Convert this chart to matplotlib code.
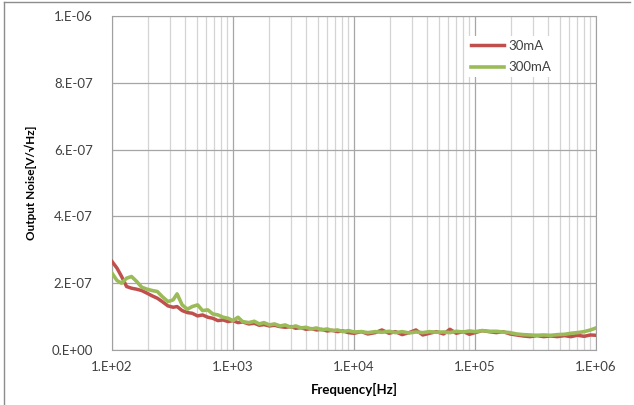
import matplotlib
matplotlib.use('Agg')
import matplotlib.pyplot as plt
from matplotlib.lines import Line2D
from matplotlib.ticker import LogLocator, NullFormatter

# measured frequency points [Hz]
freq = [100, 110, 120, 132, 145, 160, 176, 195, 215, 237, 260, 290, 320, 345, 380,
        420, 460, 510, 560, 620, 680, 750, 830, 910, 1000, 1100, 1200, 1350, 1500,
        1650, 1800, 2000, 2200, 2450, 2700, 3000, 3300, 3650, 4000, 4450, 4900, 5400,
        6000, 6600, 7300, 8100, 9000, 10000, 11500, 13000, 15000, 17000, 19500, 22000,
        25000, 28500, 32500, 37000, 42000, 48000, 55000, 62000, 70000, 80000, 90000,
        100000, 115000, 130000, 150000, 170000, 195000, 220000, 250000, 285000, 325000,
        370000, 420000, 480000, 550000, 620000, 700000, 800000, 900000, 1000000]

# output noise in units of 1e-7 V/rtHz
noise_30ma = [2.65, 2.45, 2.2, 1.9, 1.85, 1.82, 1.78, 1.7, 1.62, 1.55, 1.45, 1.32, 1.28, 1.3, 1.18,
              1.12, 1.1, 1.02, 1.05, 0.98, 0.95, 0.88, 0.9, 0.85, 0.88, 0.82, 0.84, 0.78, 0.8,
              0.74, 0.76, 0.72, 0.74, 0.7, 0.68, 0.7, 0.65, 0.67, 0.62, 0.64, 0.6, 0.62,
              0.57, 0.59, 0.55, 0.57, 0.52, 0.5, 0.55, 0.48, 0.52, 0.6, 0.5, 0.55,
              0.46, 0.52, 0.6, 0.45, 0.5, 0.55, 0.48, 0.62, 0.5, 0.55, 0.47,
              0.52, 0.58, 0.55, 0.52, 0.55, 0.48, 0.45, 0.42, 0.4, 0.43,
              0.4, 0.42, 0.4, 0.43, 0.4, 0.44, 0.41, 0.45, 0.44]

noise_300ma = [2.3, 2.08, 2.0, 2.15, 2.2, 2.05, 1.88, 1.82, 1.78, 1.75, 1.6, 1.45, 1.5, 1.68, 1.35,
               1.22, 1.3, 1.35, 1.18, 1.2, 1.08, 1.05, 0.98, 0.95, 0.88, 0.98, 0.85, 0.82, 0.86,
               0.78, 0.82, 0.75, 0.78, 0.72, 0.75, 0.68, 0.72, 0.66, 0.68, 0.63, 0.66, 0.6,
               0.63, 0.58, 0.6, 0.55, 0.58, 0.54, 0.55, 0.52, 0.55, 0.53, 0.56, 0.52,
               0.55, 0.51, 0.54, 0.52, 0.55, 0.53, 0.54, 0.52, 0.56, 0.54, 0.57,
               0.55, 0.58, 0.56, 0.56, 0.54, 0.52, 0.48, 0.46, 0.45, 0.44,
               0.45, 0.44, 0.46, 0.47, 0.5, 0.52, 0.55, 0.6, 0.66]

series_labels = ['30mA', '300mA']
xticks = [1e2, 1e3, 1e4, 1e5, 1e6]
xtick_labels = ['1.E+02', '1.E+03', '1.E+04', '1.E+05', '1.E+06']
yticks = [0, 2e-7, 4e-7, 6e-7, 8e-7, 1e-6]
ytick_labels = ['0.E+00', '2.E-07', '4.E-07', '6.E-07', '8.E-07', '1.E-06']

plt.rcParams['font.family'] = ['Lato', 'DejaVu Sans']

fig = plt.figure(figsize=(6.34, 4.05), dpi=100)
ax = fig.add_axes([112 / 634, 55 / 405, 484 / 634, 334 / 405])

ax.semilogx(freq, [v * 1e-7 for v in noise_30ma], color='#C0504D', lw=2.5, label=series_labels[0], zorder=3)
ax.semilogx(freq, [v * 1e-7 for v in noise_300ma], color='#9BBB59', lw=2.6, label=series_labels[1], zorder=4)

ax.set_xlim(1e2, 1e6)
ax.set_ylim(0, 1e-6)
ax.set_xticks(xticks)
ax.set_xticklabels(xtick_labels)
ax.xaxis.set_minor_locator(LogLocator(base=10, subs=range(2, 10)))
ax.xaxis.set_minor_formatter(NullFormatter())
ax.set_yticks(yticks)
ax.set_yticklabels(ytick_labels)

ax.grid(which='major', color='#a6a6a6', lw=0.9)
ax.grid(which='minor', axis='x', color='#d4d4d4', lw=0.9)
ax.tick_params(which='both', length=0)
ax.tick_params(axis='y', pad=14, labelsize=9.5, labelcolor='#404040')
ax.tick_params(axis='x', pad=8, labelsize=9.5, labelcolor='#404040')
for s in ax.spines.values():
    s.set_color('#a0a0a0')

ax.set_xlabel('Frequency[Hz]', fontsize=9.5, fontweight='bold', labelpad=7)
ax.set_ylabel('Output Noise[V/√Hz]', fontsize=8.5, fontweight='bold', labelpad=10)

leg = ax.legend(loc='upper left', bbox_to_anchor=(0.72, 0.96), frameon=True, fancybox=False,
                edgecolor='none', facecolor='white', framealpha=1, fontsize=9.5,
                handlelength=2.5, handletextpad=0.3, labelspacing=0.7, borderpad=0.3)
for t in leg.get_texts():
    t.set_color('#404040')

# chart frame
fig.add_artist(Line2D([4 / 634, 4 / 634], [0, 1 - 2 / 405], color='#8c8c8c', lw=1))
fig.add_artist(Line2D([4 / 634, 630 / 634], [1 - 2 / 405, 1 - 2 / 405], color='#8c8c8c', lw=1))

plt.savefig('out.png', dpi=100)
